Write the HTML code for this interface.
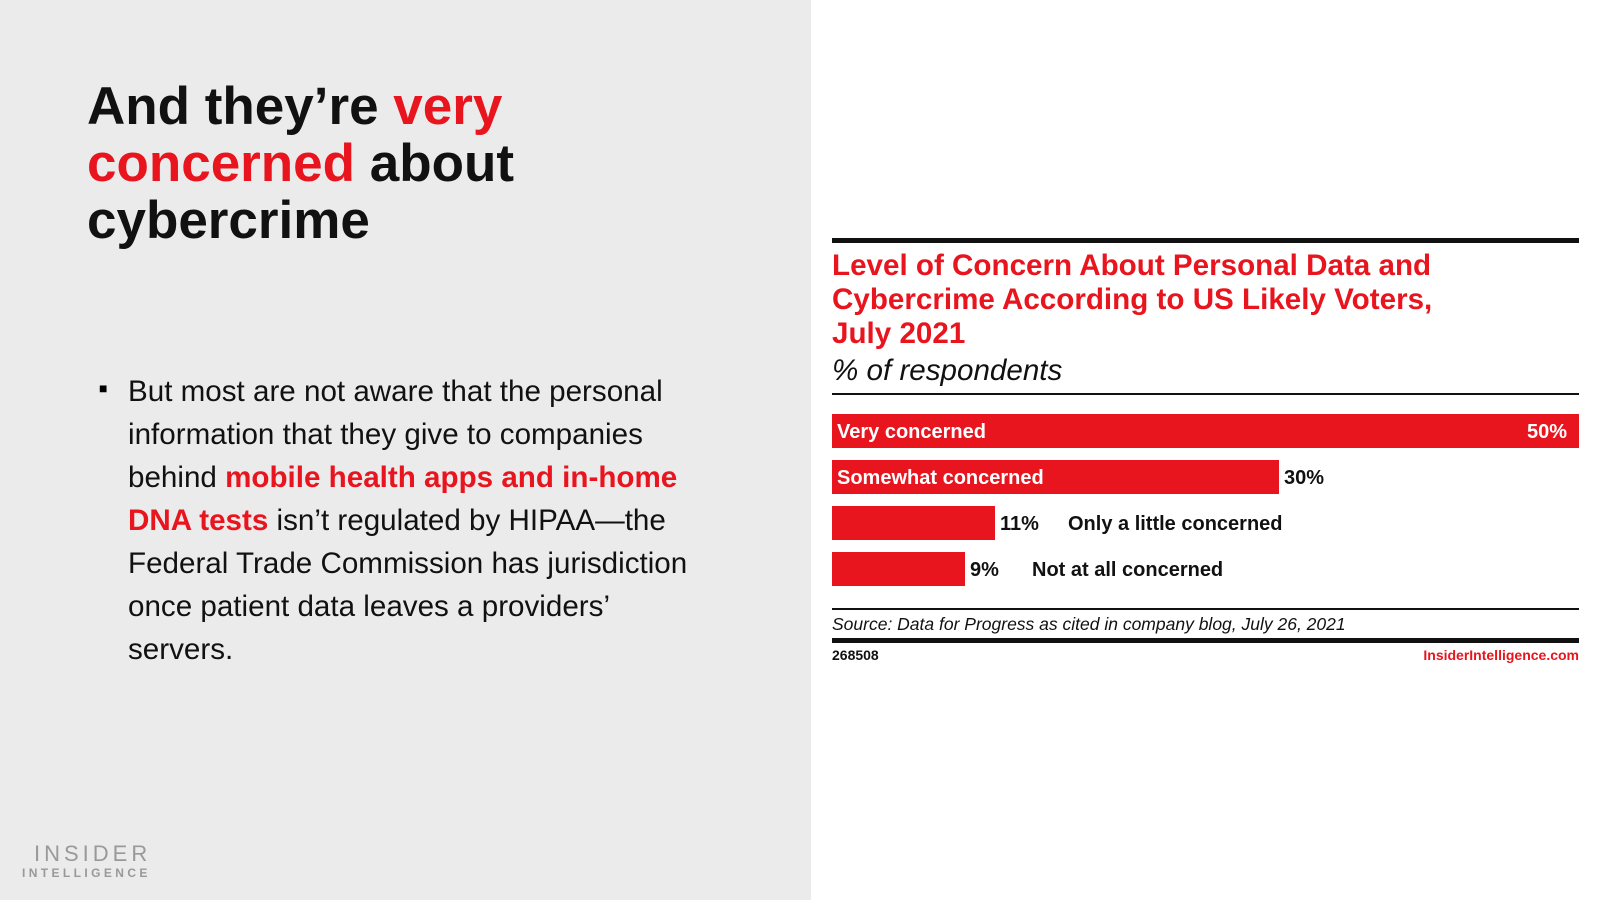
<!DOCTYPE html>
<html><head><meta charset="utf-8"><style>
body{margin:0;width:1600px;height:900px;position:relative;overflow:hidden;background:#fff;font-family:"Liberation Sans",Arial,sans-serif}
.l{position:absolute;left:0;top:0;width:811px;height:900px;background:#ebebeb}
.a{position:absolute;white-space:nowrap}
.r{color:#e8141e}
h1{position:absolute;left:87px;top:78px;margin:0;font-size:53px;line-height:57px;font-weight:bold;color:#111}
.bt{position:absolute;left:128px;top:370px;font-size:29.6px;line-height:43px;color:#111;white-space:nowrap}
.bar{position:absolute;left:832px;background:#e8141e;height:34px}
.lab{position:absolute;font-size:20px;font-weight:bold;line-height:34px;white-space:nowrap}
</style></head><body>
<div class="l"></div>
<h1>And they’re <span class="r">very</span><br><span class="r">concerned</span> about<br>cybercrime</h1>
<div class="a" style="left:99px;top:380px;font-size:14px">■</div>
<div class="bt">But most are not aware that the personal<br>information that they give to companies<br>behind <b class="r">mobile health apps and in-home</b><br><b class="r">DNA tests</b> isn’t regulated by HIPAA—the<br>Federal Trade Commission has jurisdiction<br>once patient data leaves a providers’<br>servers.</div>
<div class="a" style="left:34px;top:841px;font-size:22px;letter-spacing:4px;color:#999">INSIDER</div>
<div class="a" style="left:22px;top:866px;font-size:12px;letter-spacing:3.4px;color:#999;font-weight:bold">INTELLIGENCE</div>

<div class="a" style="left:832px;top:238px;width:747px;height:5px;background:#111"></div>
<div class="a r" style="left:832px;top:249px;font-size:29.6px;line-height:34px;font-weight:bold">Level of Concern About Personal Data and<br>Cybercrime According to US Likely Voters,<br>July 2021</div>
<div class="a" style="left:832px;top:354px;font-size:29.6px;font-style:italic;color:#111">% of respondents</div>
<div class="a" style="left:832px;top:393px;width:747px;height:2px;background:#111"></div>

<div class="bar" style="top:414px;width:747px"></div>
<div class="lab" style="left:837px;top:415px;color:#fff">Very concerned</div>
<div class="lab" style="left:1527px;top:415px;color:#fff">50%</div>
<div class="bar" style="top:460px;width:447px"></div>
<div class="lab" style="left:837px;top:461px;color:#fff">Somewhat concerned</div>
<div class="lab" style="left:1284px;top:461px;color:#111">30%</div>
<div class="bar" style="top:506px;width:163px"></div>
<div class="lab" style="left:1000px;top:507px;color:#111">11%</div>
<div class="lab" style="left:1068px;top:507px;color:#111">Only a little concerned</div>
<div class="bar" style="top:552px;width:133px"></div>
<div class="lab" style="left:970px;top:553px;color:#111">9%</div>
<div class="lab" style="left:1032px;top:553px;color:#111">Not at all concerned</div>

<div class="a" style="left:832px;top:608px;width:747px;height:2px;background:#111"></div>
<div class="a" style="left:832px;top:614px;font-size:17.5px;font-style:italic;color:#111">Source: Data for Progress as cited in company blog, July 26, 2021</div>
<div class="a" style="left:832px;top:638px;width:747px;height:5px;background:#111"></div>
<div class="a" style="left:832px;top:647px;font-size:14px;font-weight:bold;color:#111">268508</div>
<div class="a r" style="right:21px;top:647px;font-size:14px;font-weight:bold">InsiderIntelligence.com</div>
</body></html>
